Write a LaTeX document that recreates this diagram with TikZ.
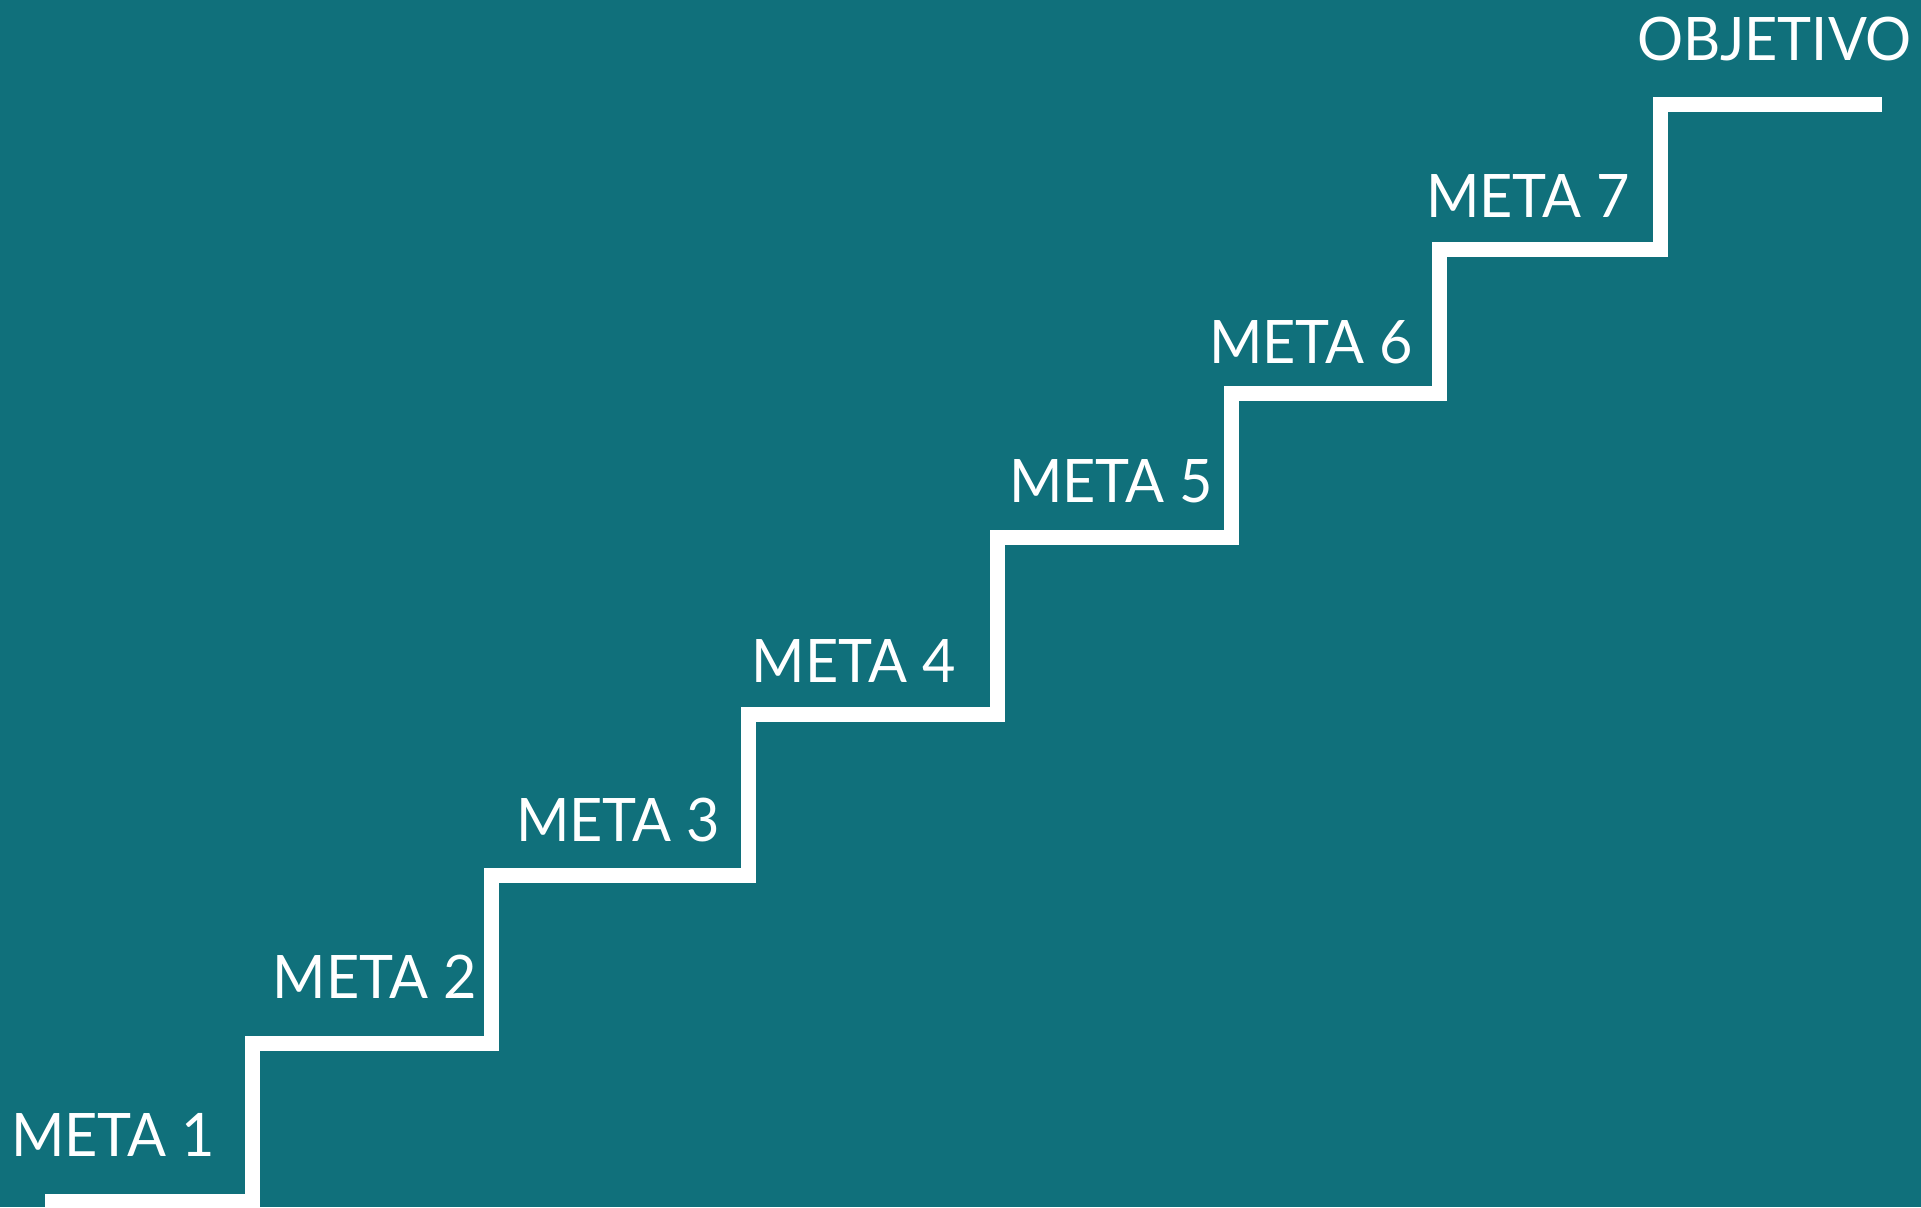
\documentclass[tikz,border=0pt]{standalone}
\usepackage{fontspec}
\setmainfont{Lato}[FakeStretch=0.96]
\definecolor{teal}{RGB}{16,112,123}
\begin{document}
\begin{tikzpicture}[x=1pt,y=-1pt,
  lbl/.style={anchor=base,inner sep=0pt,text=white,font=\fontsize{60}{60}\selectfont},
  stair/.style={draw=white,line width=15pt,line join=miter,line cap=butt}]
\fill[teal] (0,0) rectangle (1921,1207);
\useasboundingbox (0,0) rectangle (1921,1207);
\draw[stair] (45,1201.5) -- (252,1201.5) -- (252,1043.5) -- (491.5,1043.5) -- (491.5,875.5)
  -- (748.5,875.5) -- (748.5,714) -- (997,714) -- (997,537.5) -- (1231.5,537.5)
  -- (1231.5,393.5) -- (1439.5,393.5) -- (1439.5,249.5) -- (1660.5,249.5)
  -- (1660.5,104.5) -- (1882,104.5);
\node[lbl] (m1) at (113,1156) {META 1};
\node[lbl] (m2) at (374.5,998) {META 2};
\node[lbl] (m3) at (618,841) {META 3};
\node[lbl] (m4) at (853.5,682) {META 4};
\node[lbl] (m5) at (1111,502) {META 5};
\node[lbl] (m6) at (1311,363) {META 6};
\node[lbl] (m7) at (1528,217) {META 7};
\node[lbl] (obj) at (1774.5,60) {OBJETIVO};
\end{tikzpicture}
\end{document}
